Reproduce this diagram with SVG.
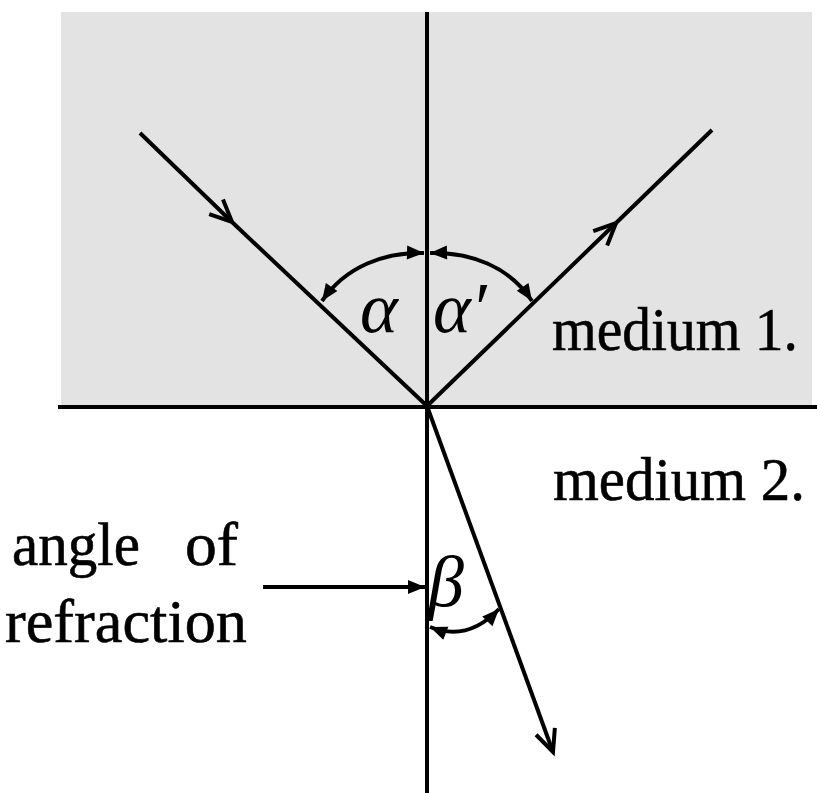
<svg xmlns="http://www.w3.org/2000/svg" width="817" height="793" viewBox="0 0 817 793">
<style>
.ln{fill:none;stroke:#000;stroke-width:4;stroke-linecap:butt}
.arc{fill:none;stroke:#000;stroke-width:4}
.lbl{font-family:"Liberation Serif","Times New Roman",serif;font-size:62px;fill:#000;stroke:#000;stroke-width:0.6}
.gr{font-family:"Liberation Serif","Times New Roman",serif;font-style:italic;font-size:72px;fill:#000}
</style>
<defs>
<marker id="open" markerUnits="userSpaceOnUse" markerWidth="40" markerHeight="40" refX="0" refY="0" viewBox="-30 -20 40 40" orient="auto" overflow="visible">
<path d="M-22,-10 L0,0 L-22,10" fill="none" stroke="#000" stroke-width="4" stroke-linejoin="miter"/>
</marker>
<marker id="fill" markerUnits="userSpaceOnUse" markerWidth="30" markerHeight="30" refX="0" refY="0" viewBox="-20 -10 30 20" orient="auto-start-reverse" overflow="visible">
<path d="M-17,-7 L0,0 L-17,7 Z" fill="#000"/>
</marker>
</defs>
<rect id="medium1-area" x="61" y="12" width="751" height="395" fill="#e3e3e3"/>
<g id="connectors">
<line class="ln" x1="58" y1="407" x2="817" y2="407"/>
<line class="ln" x1="427" y1="12" x2="427" y2="793"/>
<path class="ln" d="M140,133 L232,222 L427,406" marker-mid="url(#open)"/>
<path class="ln" d="M427,406 L616,223 L712,130" marker-mid="url(#open)"/>
<path class="ln" d="M427,406 L553,752" marker-end="url(#open)"/>
<path class="arc" d="M322,301 C346,266 385,252 424,253" marker-start="url(#fill)" marker-end="url(#fill)"/>
<path class="arc" d="M430,253 C470,252 509,266 532,301" marker-start="url(#fill)" marker-end="url(#fill)"/>
<path class="arc" d="M430,627 Q468,642 499,609" marker-start="url(#fill)" marker-end="url(#fill)"/>
<path class="arc" d="M263,587 L425,587" marker-end="url(#fill)"/>
</g>
<g id="label-alpha"><text class="gr" x="360" y="332">α</text></g>
<g id="label-alpha-prime"><text class="gr" x="433" y="332">α′</text></g>
<g id="label-beta"><text class="gr" x="428" y="606">β</text></g>
<g id="label-medium1"><text class="lbl" x="552" y="350" textLength="246" lengthAdjust="spacingAndGlyphs">medium 1.</text></g>
<g id="label-medium2"><text class="lbl" x="553" y="500" textLength="252" lengthAdjust="spacingAndGlyphs">medium 2.</text></g>
<g id="label-angle"><text class="lbl" y="565"><tspan x="12" textLength="128" lengthAdjust="spacingAndGlyphs">angle</tspan><tspan x="185" textLength="53" lengthAdjust="spacingAndGlyphs">of</tspan></text><text class="lbl" x="5" y="642" textLength="242" lengthAdjust="spacingAndGlyphs">refraction</text></g>
</svg>
